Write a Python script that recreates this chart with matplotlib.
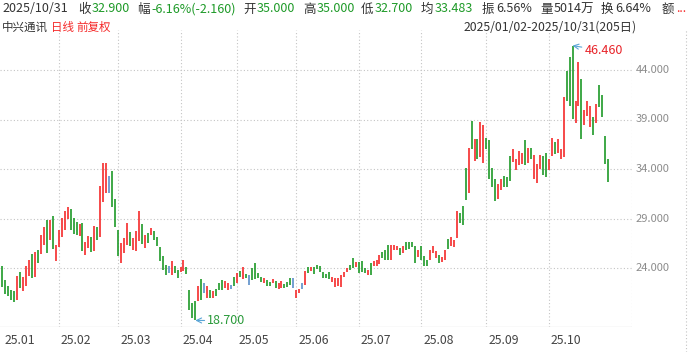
"""ZTE (中兴通讯) daily bars, 2025/01/02 - 2025/10/31."""
import matplotlib
matplotlib.use("Agg")
import matplotlib.pyplot as plt

plt.rcParams['font.family'] = ['Noto Sans CJK SC', 'DejaVu Sans']

# daily high / low; move: r = up, g = down, b = flat
highs = [
    24.17, 22.83, 22.15, 21.82, 21.65, 23.16, 23.56, 23.06, 24.23, 24.77,
    25.44, 25.58, 25.85, 27.36, 28.19, 28.87, 28.87, 29.27, 26.35, 27.86,
    29.03, 29.77, 30.14, 29.94, 29.03, 28.60, 28.46, 28.53, 26.58, 27.25,
    27.12, 28.26, 28.19, 32.29, 34.57, 34.57, 33.30, 33.83, 30.95, 27.79,
    26.53, 27.04, 28.56, 27.61, 27.04, 27.72, 29.74, 28.46, 27.38, 27.55,
    27.99, 27.72, 27.11, 26.13, 25.18, 24.34, 24.24, 24.68, 24.17, 23.83,
    24.10, 24.78, 24.10, 21.80, 20.45, 20.62, 22.14, 22.89, 22.48, 22.14,
    21.80, 21.64, 21.87, 22.48, 22.82, 22.65, 22.48, 22.31, 23.09, 23.49,
    23.66, 24.13, 23.36, 23.29, 23.97, 24.47, 23.46, 23.12, 22.96, 22.79,
    22.62, 22.86, 22.69, 22.45, 22.69, 22.35, 22.62, 22.96, 22.96, 21.78,
    21.88, 22.45, 23.70, 24.13, 24.13, 24.13, 24.30, 24.24, 23.63, 23.36,
    23.56, 23.12, 23.02, 22.96, 23.29, 23.63, 24.03, 24.30, 24.98, 24.64,
    24.64, 24.71, 24.03, 23.83, 24.50, 24.67, 24.77, 25.34, 25.58, 25.85,
    26.35, 26.35, 26.35, 26.18, 26.01, 26.18, 26.62, 26.62, 26.62, 26.18,
    25.85, 26.18, 25.17, 24.77, 25.85, 26.18, 25.68, 25.34, 25.07, 25.85,
    26.92, 27.09, 26.85, 29.77, 29.60, 30.31, 34.13, 36.15, 38.87, 37.02,
    37.02, 38.70, 38.43, 37.09, 36.90, 34.10, 33.00, 32.50, 33.00, 33.30,
    33.19, 35.31, 35.98, 34.97, 35.78, 35.64, 36.95, 36.15, 36.11, 35.38,
    34.54, 35.38, 35.31, 35.64, 35.04, 37.12, 36.72, 36.99, 36.05, 41.25,
    43.93, 45.28, 46.46, 40.91, 44.84, 43.09, 40.01, 40.91, 40.34, 39.23,
    40.58, 42.49, 41.48, 37.32, 35.00,
]
lows = [
    22.09, 21.42, 21.21, 20.81, 20.54, 20.81, 21.99, 21.65, 22.22, 23.23,
    22.96, 23.09, 24.50, 25.44, 26.35, 25.51, 26.85, 25.95, 24.67, 26.11,
    27.12, 27.86, 28.93, 27.86, 27.46, 27.36, 27.25, 25.68, 25.34, 26.01,
    25.58, 25.68, 26.79, 27.12, 30.71, 31.55, 31.55, 30.21, 28.13, 25.17,
    24.51, 25.52, 26.36, 26.20, 25.86, 25.69, 26.70, 26.43, 26.03, 26.53,
    27.38, 26.87, 26.26, 24.68, 23.83, 23.32, 23.49, 23.32, 23.49, 22.99,
    23.56, 23.66, 23.43, 19.78, 18.93, 18.70, 20.62, 20.79, 21.47, 20.96,
    20.96, 20.96, 21.20, 21.80, 21.80, 21.97, 21.80, 21.87, 22.14, 22.48,
    23.09, 22.90, 22.96, 22.28, 22.79, 22.89, 22.96, 22.62, 22.45, 22.22,
    22.22, 22.52, 21.95, 21.88, 22.01, 21.95, 22.11, 22.28, 22.01, 21.00,
    21.44, 21.88, 22.28, 23.46, 23.70, 23.36, 23.90, 23.63, 22.96, 22.96,
    22.89, 22.62, 22.11, 22.22, 22.11, 23.12, 23.63, 23.80, 23.97, 24.13,
    23.46, 23.63, 23.46, 23.26, 23.33, 24.17, 24.17, 24.44, 25.00, 24.84,
    24.77, 24.84, 25.85, 25.78, 25.34, 25.51, 25.78, 25.91, 26.11, 24.50,
    25.11, 24.84, 24.17, 24.17, 24.84, 25.51, 25.00, 24.50, 24.57, 24.84,
    25.91, 26.25, 26.11, 27.02, 28.53, 28.30, 30.88, 31.62, 35.98, 34.84,
    34.97, 35.24, 34.64, 35.98, 33.00, 32.20, 30.80, 31.00, 31.90, 32.19,
    32.19, 32.80, 34.70, 33.87, 34.37, 34.54, 34.40, 34.64, 35.04, 33.03,
    32.59, 34.03, 33.36, 33.19, 33.87, 35.31, 35.54, 35.64, 34.97, 35.21,
    40.91, 40.41, 39.07, 38.66, 40.41, 36.99, 38.40, 39.34, 38.23, 37.39,
    38.66, 40.24, 39.23, 34.54, 32.70,
]
moves = (
    "gggggrgrrrgrgrrgrgrr" "rrrgggrgrrgrgrrrbggg"
    "rrrgrrrgrgrgggggbrgg" "rrggggrgbrgrgggrrbgr"
    "grgbggggrggrgrrgggbr" "rbrgrggggggrrrrrrggr"
    "gggrgrrrgggrrrgrgggg" "rgggrrrgrrgrrrgggrgr"
    "grrggggrrgggrrrrgrgr" "rrggrrgrrrgggrrgrrrg"
    "rgggg"
)

month_starts = [0, 19, 39, 60, 79, 99, 120, 141, 163, 184]
month_labels = ["25.01", "25.02", "25.03", "25.04", "25.05",
                "25.06", "25.07", "25.08", "25.09", "25.10"]
price_ticks = [24, 29, 34, 39, 44]

quote = [
    ("收", "32.900", "g"), ("幅", "-6.16%(-2.160)", "g"), ("开", "35.000", "g"),
    ("高", "35.000", "g"), ("低", "32.700", "g"), ("均", "33.483", "g"),
    ("振", "6.56%", "k"), ("量", "5014万", "k"), ("换", "6.64%", "k"),
    ("额", "...", "r"),
]
quote_x = [78, 137, 243, 303, 361, 421, 482, 540, 601, 662]

UP, DOWN, FLAT = "#f52a2a", "#1e9a28", "#5b8fc9"
TXT, GRID = "#333333", "#c4c4c4"
colors = {"r": UP, "g": DOWN, "b": FLAT, "k": TXT}

W, H = 690, 352
fig = plt.figure(figsize=(W / 100, H / 100), dpi=100)
ax_left, ax_right, ax_top, ax_bot = 0, 632, 30, 327
ax = fig.add_axes([ax_left / W, 1 - ax_bot / H,
                   (ax_right - ax_left) / W, (ax_bot - ax_top) / H])
px_per_bar = 2.97
x0 = 2.3 / px_per_bar
ax.set_xlim(-x0, (ax_right - 2.3) / px_per_bar)
ax.set_ylim(34 - (ax_bot - 169) / 9.9, 34 + (169 - ax_top) / 9.9)
ax.axis("off")

# grid
for p in price_ticks:
    ax.axhline(p, color=GRID, lw=0.8, ls=(0, (1, 2)), zorder=0)
for m in month_starts[1:]:
    ax.axvline(m, color=GRID, lw=0.8, ls=(0, (1, 2)), zorder=0)
ax.axvline(ax.get_xlim()[1], color=GRID, lw=0.8, ls=(0, (1, 2)), zorder=0)
ax.axhline(ax.get_ylim()[0], color="#e2e2e2", lw=1.0, zorder=0)
fig.add_artist(plt.Line2D([686 / W, 686 / W], [0, 1 - 30 / H],
                          color=GRID, lw=0.8, ls=(0, (1, 2))))

# bars
xs = list(range(len(highs)))
ax.vlines(xs, lows, highs, colors=[colors[c] for c in moves], lw=1.2, zorder=2)

# extremes
i_hi = highs.index(max(highs))
i_lo = lows.index(min(lows))
ax.annotate(f"{highs[i_hi]:.3f}", xy=(i_hi, highs[i_hi]), xytext=(12, -5),
            textcoords="offset pixels", color="#e8242a", fontsize=9,
            va="center", ha="left",
            arrowprops=dict(arrowstyle="->", color="#5aa5d6", lw=0.8,
                            shrinkA=0, shrinkB=0))
ax.annotate(f"{lows[i_lo]:.3f}", xy=(i_lo, lows[i_lo]), xytext=(12, 0),
            textcoords="offset pixels", color="#2a9a3a", fontsize=9,
            va="center", ha="left",
            arrowprops=dict(arrowstyle="->", color="#5aa5d6", lw=0.8,
                            shrinkA=0, shrinkB=0))

# axis labels
for m, lab in zip(month_starts, month_labels):
    ax.text(m + 0.7, -13 / (ax_bot - ax_top), lab, transform=ax.get_xaxis_transform(),
            ha="left", va="center", fontsize=8.8, color="#444444")
for p in price_ticks:
    ax.text(1 + 4 / (ax_right - ax_left), p, f"{p:.3f}",
            transform=ax.get_yaxis_transform(),
            ha="left", va="center", fontsize=8, color="#8c8c8c")

# header
def ftext(x, y, s, c, size=9, ha="left"):
    fig.text(x / W, 1 - y / H, s, color=c, fontsize=size, va="center", ha=ha)

ftext(2, 9, "2025/10/31", TXT)
for x, (lab, val, c) in zip(quote_x, quote):
    ftext(x, 9, lab, TXT)
    ftext(x + 14, 9, val, colors[c])
ftext(2, 27, "中兴通讯", TXT, 8.3)
ftext(51, 27, "日线", UP, 8.3)
ftext(76, 27, "前复权", UP, 8.3)
ftext(637, 27, "2025/01/02-2025/10/31(205日)", TXT, 8.8, ha="right")

fig.savefig("out.png", dpi=100)
